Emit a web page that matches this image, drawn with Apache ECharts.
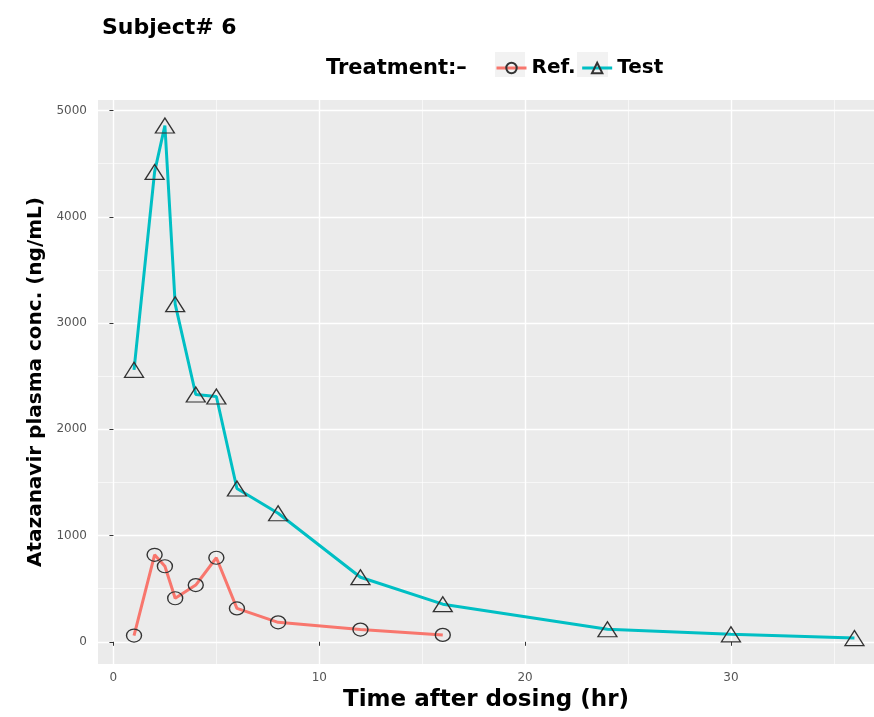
<!DOCTYPE html>
<html>
<head>
<meta charset="utf-8">
<script src="https://cdn.jsdelivr.net/npm/echarts@6/dist/echarts.min.js"></script>
<style>
  html, body { margin: 0; padding: 0; background: #fff; }
  #chart { width: 874px; height: 717px; }
</style>
</head>
<body>
<div id="chart"></div>
<script>
// time points (hr) and concentrations (ng/mL)
var refTime = [1, 2, 2.5, 3, 4, 5, 6, 8, 12, 16];
var refConc = [59, 819, 711, 410, 534, 791, 314, 183, 115, 65];
var testTime = [1, 2, 2.5, 3, 4, 5, 6, 8, 12, 16, 24, 30, 36];
var testConc = [2560, 4423, 4860, 3178, 2328, 2309, 1443, 1210, 608, 354, 118, 70, 35];

var xTicks = [0, 10, 20, 30];
var xMinor = [5, 15, 25, 35];
var yTicks = [0, 1000, 2000, 3000, 4000, 5000];
var yMinor = [500, 1500, 2500, 3500, 4500];

var pairs = function (xs, ys) {
  return xs.map(function (x, i) { return [x, ys[i]]; });
};

var boldFont = 'DejaVu Sans';
var tickText = { fontFamily: 'DejaVu Sans', fontSize: 12, color: '#555' };
var plain = function (v) { return String(v); };

var chart = echarts.init(document.getElementById('chart'), null, { renderer: 'canvas' });

var option = {
  backgroundColor: '#ffffff',
  animation: false,
  title: [
    {
      text: 'Subject# 6',
      left: 97, top: 12,
      textStyle: { fontFamily: boldFont, fontWeight: 'bold', fontSize: 22, color: '#000' }
    },
    {
      text: 'Treatment:\u2013',
      left: 321, top: 53,
      textStyle: { fontFamily: boldFont, fontWeight: 'bold', fontSize: 21, color: '#000' }
    }
  ],
  // grey key boxes behind the legend symbols, like ggplot's legend keys
  graphic: [
    { type: 'rect', left: 495, top: 52, shape: { width: 30, height: 25 }, style: { fill: '#F2F2F2' }, z: -1 },
    { type: 'rect', left: 577, top: 52, shape: { width: 31, height: 25 }, style: { fill: '#F2F2F2' }, z: -1 }
  ],
  legend: {
    left: 495, top: 58, padding: 0,
    itemWidth: 30, itemHeight: 13, itemGap: 5,
    data: ['Ref.', 'Test'],
    lineStyle: { width: 3 },
    textStyle: { fontFamily: boldFont, fontWeight: 'bold', fontSize: 20, color: '#000' }
  },
  grid: {
    left: 98, right: 0, top: 100, bottom: 47,
    show: true, backgroundColor: '#EBEBEB', borderWidth: 0
  },
  xAxis: [
    {
      type: 'value', min: -0.75, max: 36.95,
      name: 'Time after dosing (hr)',
      nameLocation: 'middle', nameGap: 24,
      nameTextStyle: { fontFamily: boldFont, fontWeight: 'bold', fontSize: 23, color: '#000' },
      axisLine: { show: false },
      axisTick: { show: true, customValues: xTicks, length: 4, lineStyle: { color: '#333' } },
      axisLabel: Object.assign({ customValues: xTicks, margin: 8, formatter: plain }, tickText),
      splitLine: { show: true, lineStyle: { color: '#fff', width: 1.4 } }
    },
    {
      type: 'value', min: -0.75, max: 36.95, position: 'top',
      axisLine: { show: false },
      axisTick: { show: false, customValues: xMinor },
      axisLabel: { show: false, customValues: xMinor },
      splitLine: { show: true, lineStyle: { color: '#fff', width: 0.6 } }
    }
  ],
  yAxis: [
    {
      type: 'value', min: -210, max: 5100,
      name: 'Atazanavir plasma conc. (ng/mL)',
      nameLocation: 'middle', nameGap: 50, nameRotate: 90,
      nameTextStyle: { fontFamily: boldFont, fontWeight: 'bold', fontSize: 20, color: '#000' },
      axisLine: { show: false },
      axisTick: { show: true, customValues: yTicks, length: 4, lineStyle: { color: '#333' } },
      axisLabel: Object.assign({ customValues: yTicks, margin: 11, formatter: plain }, tickText),
      splitLine: { show: true, lineStyle: { color: '#fff', width: 1.4 } }
    },
    {
      type: 'value', min: -210, max: 5100, position: 'right',
      axisLine: { show: false },
      axisTick: { show: false, customValues: yMinor },
      axisLabel: { show: false, customValues: yMinor },
      splitLine: { show: true, lineStyle: { color: '#fff', width: 0.6 } }
    }
  ],
  series: [
    {
      name: 'Ref.', type: 'line',
      data: pairs(refTime, refConc),
      symbol: 'circle', symbolSize: [15, 13],
      lineStyle: { color: '#F8766D', width: 3 },
      itemStyle: { color: 'rgba(0,0,0,0)', borderColor: '#333', borderWidth: 1.3 },
      emphasis: { disabled: true }
    },
    {
      name: 'Test', type: 'line',
      data: pairs(testTime, testConc),
      symbol: 'triangle', symbolSize: [19, 15],
      lineStyle: { color: '#00BFC4', width: 3 },
      itemStyle: { color: 'rgba(0,0,0,0)', borderColor: '#333', borderWidth: 1.3 },
      emphasis: { disabled: true }
    }
  ]
};

chart.setOption(option);
</script>
</body>
</html>
